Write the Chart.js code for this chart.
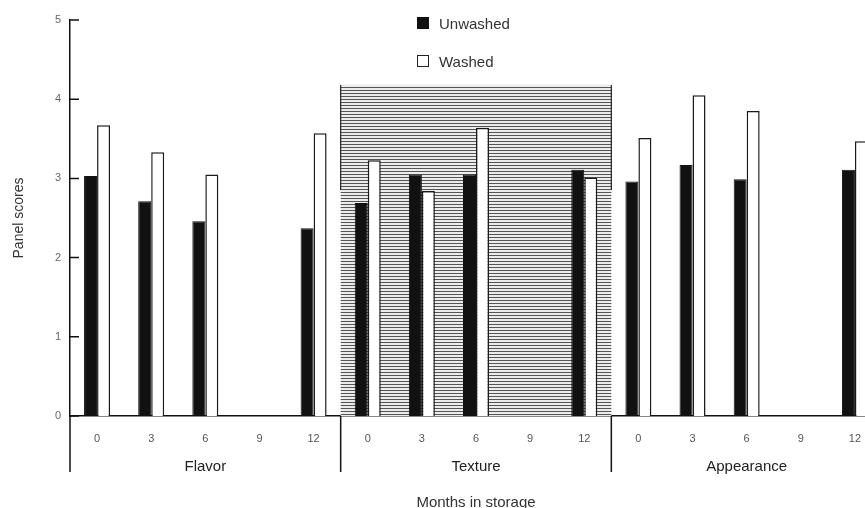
<!DOCTYPE html>
<html>
<head>
<meta charset="utf-8">
<title>Panel scores by months in storage</title>
<script src="https://cdn.jsdelivr.net/npm/chart.js"></script>
<style>
  html, body { margin: 0; padding: 0; overflow: hidden; background: #fff; }
  #wrap { position: relative; width: 900px; height: 508px; }
  #legend { position: absolute; left: 417px; top: 14px; font-family: "Liberation Sans", Arial, sans-serif; font-size: 15px; color: #333; }
  #legend div { display: flex; align-items: center; height: 18px; }
  #legend div + div { margin-top: 20px; }
  #legend span.box { display: inline-block; width: 12px; height: 12px; margin-right: 10px; box-sizing: border-box; }
</style>
</head>
<body>
<div id="wrap">
  <canvas id="chart"></canvas>
  <div id="legend">
    <div><span class="box" style="background:#111"></span>Unwashed</div>
    <div><span class="box" style="border:1.3px solid #222;background:#fff"></span>Washed</div>
  </div>
</div>
<script>
  // values
  const months = ["0", "3", "6", "9", "12"];
  const attributes = ["Flavor", "Texture", "Appearance"];
  const unwashed = [3.03, 2.71, 2.46, null, 2.37, 2.69, 3.05, 3.05, null, 3.11, 2.96, 3.17, 2.99, null, 3.11];
  const washed = [3.67, 3.33, 3.05, null, 3.57, 3.23, 2.84, 3.64, null, 3.01, 3.51, 4.05, 3.85, null, 3.47];
  const yTicks = [0, 1, 2, 3, 4, 5];
  const shadeTop = 4.18; // top of the shaded Texture panel, in score units

  const labels = attributes.flatMap(() => months);

  // horizontal hatch for the Texture panel
  function hatch() {
    const c = document.createElement("canvas");
    c.width = 8; c.height = 3;
    const g = c.getContext("2d");
    g.fillStyle = "#ececec"; g.fillRect(0, 0, 8, 3);
    g.fillStyle = "#555"; g.fillRect(0, 0, 8, 1);
    return g.createPattern(c, "repeat");
  }

  const decor = {
    id: "decor",
    beforeDatasetsDraw(chart) {
      const { ctx } = chart;
      const x = chart.scales.x, y = chart.scales.y;
      const step = x.getPixelForValue(1) - x.getPixelForValue(0);
      const x0 = x.getPixelForValue(months.length) - step / 2;
      const x1 = x.getPixelForValue(2 * months.length) - step / 2;
      const yt = y.getPixelForValue(shadeTop), yb = y.getPixelForValue(0);
      ctx.save();
      ctx.fillStyle = hatch();
      ctx.fillRect(x0, yt, x1 - x0, yb - yt);
      ctx.strokeStyle = "#222"; ctx.lineWidth = 1.2;
      ctx.beginPath();
      ctx.moveTo(x0, yt); ctx.lineTo(x0, yt + 105);
      ctx.moveTo(x1, yt); ctx.lineTo(x1, yt + 105);
      ctx.stroke();
      ctx.restore();
    },
    afterDraw(chart) {
      const { ctx, chartArea } = chart;
      const x = chart.scales.x, y = chart.scales.y;
      const step = x.getPixelForValue(1) - x.getPixelForValue(0);
      const yb = y.getPixelForValue(0);
      ctx.save();
      ctx.strokeStyle = "#111"; ctx.lineWidth = 1.5;
      ctx.beginPath();
      for (let i = 0; i < attributes.length; i++) {
        const xd = i === 0 ? chartArea.left : x.getPixelForValue(i * months.length) - step / 2;
        ctx.moveTo(xd, yb); ctx.lineTo(xd, yb + 56);
      }
      yTicks.forEach(v => {
        const yp = y.getPixelForValue(v);
        ctx.moveTo(chartArea.left, yp); ctx.lineTo(chartArea.left + 9, yp);
      });
      ctx.stroke();
      ctx.restore();
    }
  };

  new Chart(document.getElementById("chart"), {
    type: "bar",
    data: {
      labels: labels,
      datasets: [
        { label: "Unwashed", data: unwashed, backgroundColor: "#111", borderColor: "#111", borderWidth: 1 },
        { label: "Washed", data: washed, backgroundColor: "#fff", borderColor: "#1a1a1a", borderWidth: 1.5 }
      ]
    },
    options: {
      responsive: true,
      maintainAspectRatio: false,
      animation: false,
      layout: { padding: { top: 20, right: 18, bottom: 0, left: 0 } },
      datasets: { bar: { categoryPercentage: 0.48, barPercentage: 1.0 } },
      plugins: { legend: { display: false }, tooltip: { enabled: false } },
      scales: {
        y: {
          min: 0, max: 5,
          afterFit: s => { s.width = 70; },
          afterBuildTicks: s => { s.ticks = yTicks.map(v => ({ value: v })); },
          grid: { display: false },
          border: { display: true, color: "#111", width: 1.5 },
          ticks: { padding: 1, color: "#666", font: { family: "Liberation Sans", size: 11 } },
          title: { display: true, text: "Panel scores", color: "#333", padding: { top: 11, bottom: 0 }, font: { family: "Liberation Sans", size: 14 } }
        },
        x: {
          weight: 0,
          afterFit: s => { s.height = 34; },
          grid: { display: false },
          border: { display: true, color: "#111", width: 1.5 },
          ticks: { padding: 8, maxRotation: 0, autoSkip: false, color: "#555", font: { family: "Liberation Sans", size: 11 } }
        },
        xg: {
          type: "category",
          labels: attributes,
          position: "bottom",
          offset: true,
          weight: 1,
          afterFit: s => { s.height = 58; },
          grid: { display: false },
          border: { display: false },
          ticks: { padding: 0, color: "#222", font: { family: "Liberation Sans", size: 15 } },
          title: { display: true, text: "Months in storage", color: "#333", padding: { top: 0, bottom: -4 }, font: { family: "Liberation Sans", size: 15 } }
        }
      }
    },
    plugins: [decor]
  });
</script>
</body>
</html>
